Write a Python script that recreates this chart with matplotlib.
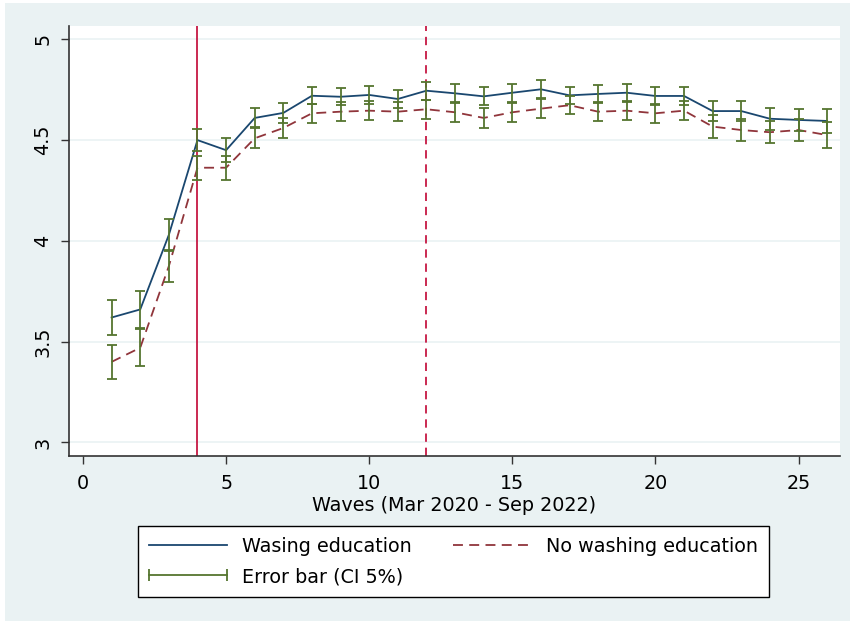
import matplotlib
matplotlib.use('Agg')
import matplotlib.pyplot as plt
from matplotlib.lines import Line2D
from matplotlib.legend_handler import HandlerLine2D
from matplotlib.patches import Rectangle
import numpy as np

plt.rcParams['font.family'] = ['DejaVu Sans']

# data
waves = list(range(1, 27))
wash_mean = [3.62, 3.66, 4.03, 4.50, 4.45, 4.61, 4.635, 4.72, 4.715, 4.724, 4.704, 4.745, 4.732,
             4.717, 4.735, 4.752, 4.722, 4.729, 4.735, 4.719, 4.719, 4.644, 4.644, 4.606, 4.600, 4.595]
nowash_mean = [3.40, 3.47, 3.875, 4.363, 4.363, 4.509, 4.56, 4.633, 4.641, 4.646, 4.641, 4.653, 4.638,
               4.61, 4.638, 4.656, 4.673, 4.641, 4.646, 4.633, 4.646, 4.567, 4.55, 4.539, 4.55, 4.525]
wash_ci = [0.087, 0.093, 0.08, 0.055, 0.06, 0.047, 0.048, 0.043, 0.043, 0.044, 0.044, 0.045, 0.045,
           0.045, 0.045, 0.045, 0.042, 0.043, 0.045, 0.045, 0.045, 0.051, 0.051, 0.055, 0.055, 0.06]
nowash_ci = [0.083, 0.093, 0.08, 0.06, 0.06, 0.05, 0.05, 0.046, 0.046, 0.047, 0.047, 0.047, 0.048,
             0.048, 0.048, 0.047, 0.046, 0.047, 0.048, 0.048, 0.048, 0.058, 0.055, 0.055, 0.055, 0.063]
event_waves = [4, 12]
xticks = [0, 5, 10, 15, 20, 25]
yticks = [3, 3.5, 4, 4.5, 5]
ytick_labels = ['3', '3.5', '4', '4.5', '5']
labels = ['Wasing education', 'No washing education', 'Error bar (CI 5%)']
xlabel = 'Waves (Mar 2020 - Sep 2022)'

bg = '#eaf2f3'
navy = '#1a476f'
maroon = '#90353b'
green = '#55752f'
cranberry = '#c10534'
fs = 13.8

W, H = 851, 624
fig = plt.figure(figsize=(W / 100, H / 100), dpi=100, facecolor='white')
fig.patches.append(Rectangle((5 / W, 1 - 621 / H), (850 - 5) / W, (621 - 3) / H,
                             transform=fig.transFigure, facecolor=bg, edgecolor='none', zorder=-10))

ax = fig.add_axes([69 / W, 1 - 456 / H, (840 - 69) / W, (456 - 26) / H])
ax.set_facecolor('white')

for y in yticks:
    ax.axhline(y, color=bg, lw=1.2, zorder=0)

ax.axvline(event_waves[0], color=cranberry, lw=1.2, zorder=1)
ax.axvline(event_waves[1], color=cranberry, lw=1.2, ls=(0, (5, 3.5)), zorder=1)

ax.plot(waves, wash_mean, color=navy, lw=1.3, zorder=2)
ax.plot(waves, nowash_mean, color=maroon, lw=1.3, ls=(0, (5.5, 3.5)), zorder=2)

ax.errorbar(waves, wash_mean, yerr=wash_ci, fmt='none', ecolor=green, elinewidth=1.3,
            capsize=3.8, capthick=1.3, zorder=3)
ax.errorbar(waves, nowash_mean, yerr=nowash_ci, fmt='none', ecolor=green, elinewidth=1.3,
            capsize=3.8, capthick=1.3, zorder=3)

ax.set_xlim(-0.489, 26.45)
ax.set_ylim(2.933, 5.066)
ax.set_xticks(xticks)
ax.set_yticks(yticks)
ax.set_yticklabels(ytick_labels)
ax.tick_params(axis='y', labelrotation=90, length=6, width=1, pad=6, labelsize=fs, color='#333333')
for t in ax.get_yticklabels():
    t.set_va('center')
ax.tick_params(axis='x', length=6, width=1, pad=7, labelsize=fs, color='#333333')
ax.set_xlabel(xlabel, fontsize=fs, labelpad=2)

for s in ['top', 'right']:
    ax.spines[s].set_visible(False)
for s in ['left', 'bottom']:
    ax.spines[s].set_color('#333333')
    ax.spines[s].set_linewidth(1.2)

h_wash = Line2D([], [], color=navy, lw=1.3)
h_nowash = Line2D([], [], color=maroon, lw=1.3, ls=(0, (5.5, 3.5)))
h_err = Line2D([], [], color=green, lw=1.3, marker='|', markersize=8, markeredgewidth=1.3)

leg = fig.legend([h_wash, h_err, h_nowash], [labels[0], labels[2], labels[1]], ncol=2,
                 loc='upper left', bbox_to_anchor=(138 / W, 1 - 526 / H), borderaxespad=0,
                 fontsize=fs, frameon=True, fancybox=False, shadow=False, framealpha=1,
                 handlelength=4.1, handletextpad=0.75, columnspacing=2.2,
                 labelspacing=0.6, borderpad=0.55, numpoints=2,
                 handler_map={Line2D: HandlerLine2D(marker_pad=0, numpoints=2)})
leg.get_frame().set_edgecolor('black')
leg.get_frame().set_linewidth(1.0)
leg.get_frame().set_facecolor('white')

fig.savefig('out.png', dpi=100, facecolor=fig.get_facecolor())
